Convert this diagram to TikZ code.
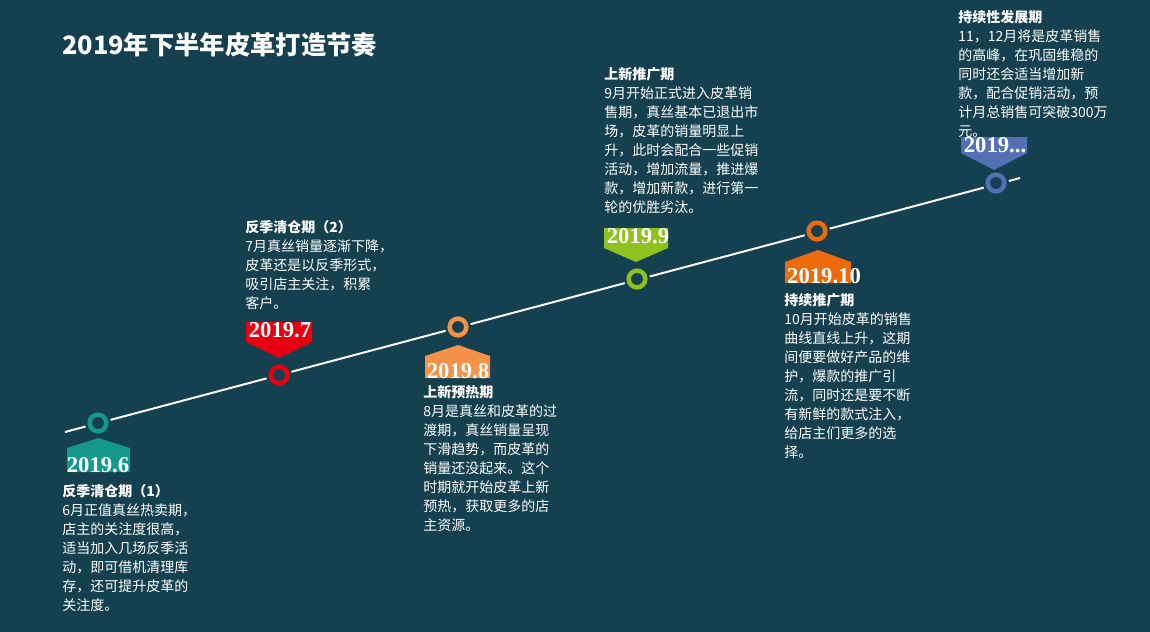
\documentclass[tikz,border=0pt]{standalone}
\usepackage{fontspec}
\newfontfamily\cjk{Noto Sans CJK SC}
\newfontfamily\datefont[Numbers=OldStyle]{Liberation Serif}
\definecolor{bgblue}{HTML}{15404F}
\definecolor{cteal}{HTML}{14998C}
\definecolor{cred}{HTML}{E60012}
\definecolor{cpeach}{HTML}{F39248}
\definecolor{cgreen}{HTML}{8DC21F}
\definecolor{corange}{HTML}{EE6A0A}
\definecolor{cblue}{HTML}{5470B5}
\tikzset{
  ring/.style={circle,draw=#1,line width=3.4pt,minimum size=12.5pt,inner sep=0pt},
  datelabel/.style={text=white,font=\datefont\bfseries\fontsize{17}{17}\selectfont,inner sep=0pt},
  txtblock/.style={anchor=north west,text=white,inner sep=0pt,align=left,
    font=\cjk\fontsize{10.5}{14.3}\selectfont},
}
\begin{document}
\begin{tikzpicture}[x=0.75pt,y=-0.75pt]
\fill[bgblue] (0,0) rectangle (1150,632);
\useasboundingbox (0,0) rectangle (1150,632);
\node[text=white,anchor=west,inner sep=0pt,font=\cjk\bfseries\fontsize{19}{19}\selectfont] (title) at (62,45) {2019年下半年皮革打造节奏};
% timeline
\coordinate (start) at (65,432);
\coordinate (end) at (1020,178);
\draw[white,line width=1.5pt] (start) -- (end);
%
\begin{scope}
\node[ring=cteal,fill=bgblue,draw=bgblue,line width=7pt] at (98,423) {};
\node[ring=cteal] (m6) at (98,423) {};
\fill[cteal] (67,448) -- (98.5,438) -- (130,448) -- (130,472) -- (67,472) -- cycle;
\node[datelabel] (d6) at (98,465) {2019.6};
\node[txtblock] (t6) at (62,484) {\textbf{反季清仓期（1）}\\6月正值真丝热卖期，\\店主的关注度很高，\\适当加入几场反季活\\动，即可借机清理库\\存，还可提升皮革的\\关注度。};
\end{scope}
%
\begin{scope}
\node[ring=cred,fill=bgblue,draw=bgblue,line width=7pt] at (279,375) {};
\node[ring=cred] (m7) at (279,375) {};
\fill[cred] (246,322) -- (312,322) -- (312,342) -- (279,358) -- (246,342) -- cycle;
\node[datelabel] (d7) at (280,330) {2019.7};
\node[txtblock] (t7) at (245,220) {\textbf{反季清仓期（2）}\\7月真丝销量逐渐下降，\\皮革还是以反季形式，\\吸引店主关注，积累\\客户。};
\end{scope}
%
\begin{scope}
\node[ring=cpeach,fill=bgblue,draw=bgblue,line width=7pt] at (458,327) {};
\node[ring=cpeach] (m8) at (458,327) {};
\fill[cpeach] (425,356) -- (458,345) -- (490,356) -- (490,378) -- (425,378) -- cycle;
\node[datelabel] (d8) at (458,371) {2019.8};
\node[txtblock] (t8) at (423,385) {\textbf{上新预热期}\\8月是真丝和皮革的过\\渡期，真丝销量呈现\\下滑趋势，而皮革的\\销量还没起来。这个\\时期就开始皮革上新\\预热，获取更多的店\\主资源。};
\end{scope}
%
\begin{scope}
\node[ring=cgreen,fill=bgblue,draw=bgblue,line width=7pt] at (637,279) {};
\node[ring=cgreen] (m9) at (637,279) {};
\fill[cgreen] (604,228) -- (668,228) -- (668,248) -- (636,262) -- (604,248) -- cycle;
\node[datelabel] (d9) at (638,236) {2019.9};
\node[txtblock] (t9) at (604,67) {\textbf{上新推广期}\\9月开始正式进入皮革销\\售期，真丝基本已退出市\\场，皮革的销量明显上\\升，此时会配合一些促销\\活动，增加流量，推进爆\\款，增加新款，进行第一\\轮的优胜劣汰。};
\end{scope}
%
\begin{scope}
\node[ring=corange,fill=bgblue,draw=bgblue,line width=7pt] at (817,231) {};
\node[ring=corange] (m10) at (817,231) {};
\fill[corange] (785,262) -- (818,250) -- (851,262) -- (851,283) -- (785,283) -- cycle;
\node[datelabel] (d10) at (824,276) {2019.10};
\node[txtblock] (t10) at (784,293) {\textbf{持续推广期}\\10月开始皮革的销售\\曲线直线上升，这期\\间便要做好产品的维\\护，爆款的推广引\\流，同时还是要不断\\有新鲜的款式注入，\\给店主们更多的选\\择。};
\end{scope}
%
\begin{scope}
\node[ring=cblue,fill=bgblue,draw=bgblue,line width=7pt] at (996,183) {};
\node[ring=cblue] (m11) at (996,183) {};
\fill[cblue] (961,137) -- (1027,137) -- (1027,153) -- (994,170) -- (961,153) -- cycle;
\node[datelabel] (d11) at (995,145) {2019...};
\node[txtblock] (t11) at (958,10) {\textbf{持续性发展期}\\11，12月将是皮革销售\\的高峰，在巩固维稳的\\同时还会适当增加新\\款，配合促销活动，预\\计月总销售可突破300万\\元。};
\end{scope}
\end{tikzpicture}
\end{document}
